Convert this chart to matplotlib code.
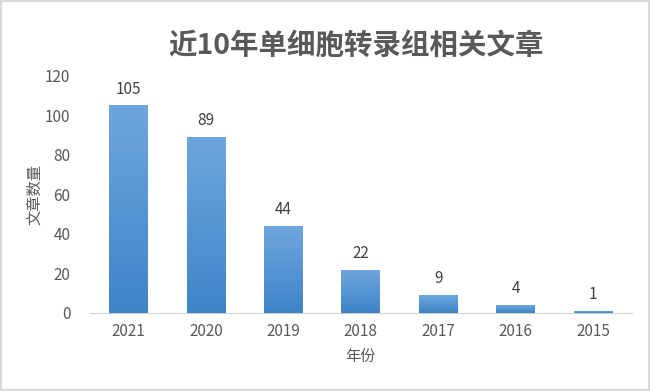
import numpy as np
import matplotlib
matplotlib.use('Agg')
import matplotlib.pyplot as plt
from matplotlib.colors import LinearSegmentedColormap

plt.rcParams['font.family'] = ['Noto Sans CJK SC', 'DejaVu Sans']

# 数据
years = ['2021', '2020', '2019', '2018', '2017', '2016', '2015']
counts = [105, 89, 44, 22, 9, 4, 1]
title = '近10年单细胞转录组相关文章'
xlabel = '年份'
ylabel = '文章数量'

fig = plt.figure(figsize=(6.5, 3.91), dpi=100)
ax = fig.add_axes([0.138, 0.1995, 0.834, 0.6065])

x = np.arange(len(years))
bars = ax.bar(x, counts, width=0.5, color='#5b9bd5', zorder=2)

# 渐变填充
cmap = LinearSegmentedColormap.from_list('g', ['#3e84c8', '#6ea6de'])
grad = np.linspace(0, 1, 256).reshape(-1, 1)
for b in bars:
    bx, by = b.get_x(), b.get_y()
    w, h = b.get_width(), b.get_height()
    im = ax.imshow(grad, cmap=cmap, aspect='auto', origin='lower',
                   extent=[bx, bx + w, by, by + h], zorder=3)
    im.set_clip_path(b)
    b.set_alpha(0)

for xi, v in zip(x, counts):
    ax.text(xi, v + 4, str(v), ha='center', va='bottom', fontsize=11, color='#404040')

ax.set_xlim(-0.5, len(years) - 0.5)
ax.set_ylim(0, 120)
ax.set_yticks(range(0, 121, 20))
ax.set_xticks(x)
ax.set_xticklabels(years)
ax.tick_params(axis='both', length=0, labelsize=11, colors='#595959')
ax.tick_params(axis='y', pad=14)
ax.tick_params(axis='x', pad=7)
for s in ['top', 'right', 'left']:
    ax.spines[s].set_visible(False)
ax.spines['bottom'].set_color('#d0d0d0')
ax.set_xlabel(xlabel, fontsize=11, color='#595959', labelpad=6)
ax.set_ylabel(ylabel, fontsize=11, color='#595959', labelpad=1)

fig.text(0.548, 0.882, title, ha='center', va='center', fontsize=20.5,
         fontweight='bold', color='#595959')

# 外框
fig.patches.append(plt.Rectangle((0.002, 0.003), 0.996, 0.994, transform=fig.transFigure,
                                 fill=False, edgecolor='#d9d9d9', linewidth=1.5))

plt.savefig('out.png', dpi=100)
